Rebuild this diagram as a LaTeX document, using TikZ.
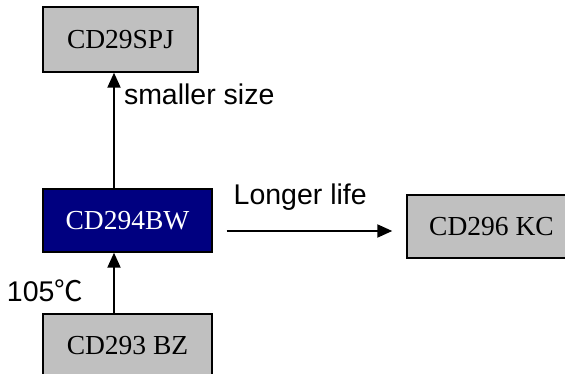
\documentclass[tikz,border=0pt]{standalone}
\usepackage{fontspec}
\usepackage{tikz}
\usetikzlibrary{arrows.meta}
\newfontfamily\boxfont{Liberation Serif}
\newfontfamily\labelfont{Liberation Sans}
\newfontfamily\cjk{Noto Sans CJK SC}
\definecolor{boxgray}{RGB}{192,192,192}
\definecolor{boxnavy}{RGB}{0,0,128}

\begin{document}
\begin{tikzpicture}[x=1pt, y=1pt,
        partbox/.style={draw=black, line width=1.4pt, fill=boxgray, inner sep=0pt,
            font=\boxfont\fontsize{27.5}{30}\selectfont},
        arr/.style={line width=2pt, -{Triangle[length=15pt, width=13pt]}},
        lbl/.style={inner sep=0pt, font=\labelfont\fontsize{28.5}{30}\selectfont}]
        \useasboundingbox (0, 0) rectangle (565, 374);
        % boxes
        \node[partbox, minimum width=155pt, minimum height=65pt] (spj) at (120.5, 334.5) {CD29SPJ};
        \node[partbox, fill=boxnavy, text=white, minimum width=169pt, minimum height=63pt] (bw) at (127.5, 153.5) {CD294BW};
        \node[partbox, minimum width=169pt, minimum height=64pt] (bz) at (127.5, 28) {CD293 BZ};
        \node[partbox, minimum width=169pt, minimum height=63pt] (kc) at (491.5, 147.5) {CD296 KC};

        % arrow up to smaller size
        \draw[arr] ([xshift=-13.5pt]bw.north) -- ([xshift=-13.5pt]bw.north |- spj.south)
            node[lbl, pos=0.726, anchor=base west, xshift=9pt] (size) {smaller size};
        % arrow from 105 box
        \draw[arr] ([xshift=-13.5pt]bz.north) -- ([xshift=-13.5pt]bw.south)
            node[lbl, pos=0.19, anchor=base east, xshift=-30pt] (temp) {105{\cjk ℃}};
        % arrow to longer life
        \draw[arr, shorten <=14pt, shorten >=14pt] ([yshift=-10.5pt]bw.east) -- ([yshift=-10.5pt]bw.east -| kc.west)
            node[lbl, at start, anchor=base west, xshift=20pt, yshift=26pt] (life) {Longer life};
    \end{tikzpicture}
\end{document}
